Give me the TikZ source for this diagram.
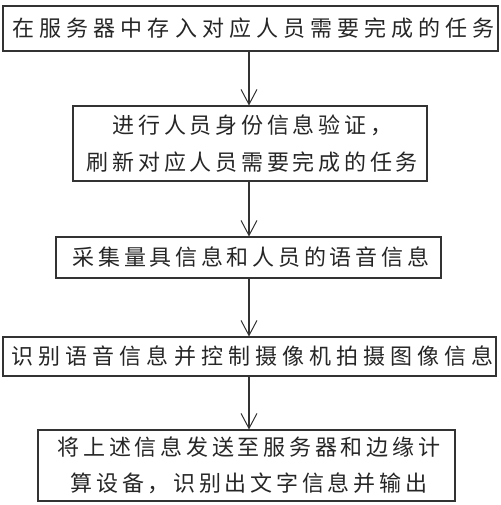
\documentclass[tikz,border=0pt]{standalone}
\usepackage{fontspec}
\newfontfamily\cjk[LetterSpace=17]{Noto Sans CJK SC}
\newfontfamily\cjkwide[LetterSpace=23]{Noto Sans CJK SC}
\newcommand\lkern{\kern4.7pt}
\newcommand\lkernw{\kern6.3pt}
\usetikzlibrary{arrows.meta}
\begin{document}
\begin{tikzpicture}[x=1pt,y=-1pt,
  box/.style={draw=black!80,line width=1.1pt,inner sep=0pt,align=center,
    font=\cjk\fontsize{22}{36.5}\selectfont,text=black!85},
  widebox/.style={box,font=\cjkwide\fontsize{22}{36.5}\selectfont},
  arr/.style={draw=black!80,line width=1.1pt,-{Straight Barb[length=15pt,width=16pt,line width=1pt]}}]
\useasboundingbox (0,0) rectangle (500,505);
\node[widebox,minimum width=495pt,minimum height=45pt] (b1) at (250.5,28.5) {\lkernw 在服务器中存入对应人员需要完成的任务};
\node[box,minimum width=354pt,minimum height=75pt] (b2) at (250,143.5) {\lkern 进行人员身份信息验证，\\\lkern 刷新对应人员需要完成的任务};
\node[box,minimum width=385pt,minimum height=41pt] (b3) at (248.5,257.5) {\lkern 采集量具信息和人员的语音信息};
\node[widebox,minimum width=493pt,minimum height=39pt] (b4) at (249.5,356.5) {\lkernw 识别语音信息并控制摄像机拍摄图像信息};
\node[box,minimum width=417pt,minimum height=71pt] (b5) at (246.5,465.5) {\lkern 将上述信息发送至服务器和边缘计\\\lkern 算设备，识别出文字信息并输出};
\coordinate (ax) at (249,0);
\draw[arr] (b1.south -| ax) -- (b2.north -| ax);
\draw[arr] (b2.south -| ax) -- (b3.north -| ax);
\draw[arr] (b3.south -| ax) -- (b4.north -| ax);
\draw[arr] (b4.south -| ax) -- (b5.north -| ax);
\end{tikzpicture}
\end{document}
